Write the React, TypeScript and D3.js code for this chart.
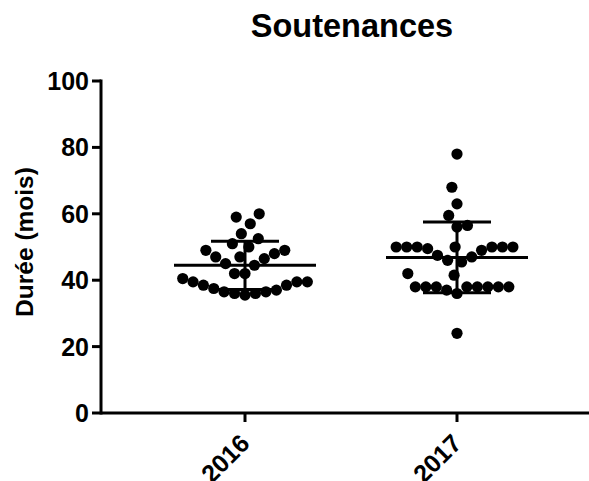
import React from 'react';
import * as d3 from 'd3';

const categories = ['2016', '2017'];
const values2016 = [59, 57, 60, 54, 52.5, 51, 50, 49, 49, 48, 47, 46.5, 47, 45, 44.5, 42, 42, 40.5, 39.5, 38.5, 37.5, 36.5, 36, 35.5, 36, 36.5, 37, 38.5, 39.5, 39.5];
const values2017 = [78, 68, 63, 59.5, 56.5, 56, 50, 50, 49.5, 50, 50, 50, 50, 50, 47, 46, 45.5, 47.5, 49, 42, 41.5, 38, 38, 38, 38, 38, 38, 38, 38, 37, 36, 24];
const seriesValues = [values2016, values2017];
const yTicks = [0, 20, 40, 60, 80, 100];
const title = 'Soutenances';
const yLabel = 'Durée (mois)';

const W = 589;
const H = 481;
const FONT = '"Liberation Sans", Arial, sans-serif';

type P = { v: number; y: number; x: number };

// beeswarm with an elliptical collision zone (wider vertically) so close values spread sideways
function swarm(vals: number[], yScale: (v: number) => number, rx: number, ry: number): P[] {
  const pts: P[] = vals.map((v) => ({ v, y: yScale(v), x: 0 }));
  const order = [...pts].sort((a, b) => a.v - b.v);
  const placed: P[] = [];
  let flip = 1;
  const hits = (q: P, cx: number, cy: number) => ((q.x - cx) / rx) ** 2 + ((q.y - cy) / ry) ** 2 < 1 - 1e-6;
  for (const p of order) {
    const cands = [0];
    for (const q of placed) {
      const dy = p.y - q.y;
      if (Math.abs(dy) < ry) {
        const dx = rx * Math.sqrt(1 - (dy / ry) ** 2);
        cands.push(q.x + dx, q.x - dx);
      }
    }
    cands.sort((a, b) => Math.abs(a) - Math.abs(b) || (a - b) * flip);
    for (const c of cands) {
      if (!placed.some((q) => hits(q, c, p.y))) {
        p.x = c;
        break;
      }
    }
    flip = -flip;
    placed.push(p);
  }
  return pts;
}

export default function App() {
  const y = d3.scaleLinear().domain([0, 100]).range([413, 81]);
  const x = d3.scalePoint<string>().domain(categories).range([245, 457]);
  const axisX0 = 101;
  const axisX1 = 589;
  const r = 5.6;

  return (
    <svg width={W} height={H} style={{ position: 'absolute', left: 0, top: 0, background: '#fff' }} fontFamily={FONT}>
      <text x={352} y={37} textAnchor="middle" fontSize={32.5} fontWeight="bold" fill="#000">{title}</text>
      <text transform={`translate(33,242) rotate(-90)`} textAnchor="middle" fontSize={24.5} fontWeight="bold" fill="#000">{yLabel}</text>

      {/* y axis */}
      <line x1={axisX0} x2={axisX0} y1={y(100) - 1.5} y2={y(0) + 1.5} stroke="#000" strokeWidth={3} />
      {yTicks.map((t) => (
        <g key={t}>
          <line x1={axisX0 - 9} x2={axisX0} y1={y(t)} y2={y(t)} stroke="#000" strokeWidth={3} />
          <text x={axisX0 - 12} y={y(t)} dy="0.36em" textAnchor="end" fontSize={25} fontWeight="bold" fill="#000">{t}</text>
        </g>
      ))}

      {/* x axis */}
      <line x1={axisX0} x2={axisX1} y1={y(0)} y2={y(0)} stroke="#000" strokeWidth={3} />
      {categories.map((c) => (
        <g key={c}>
          <line x1={x(c)!} x2={x(c)!} y1={y(0)} y2={y(0) + 9} stroke="#000" strokeWidth={3} />
          <text transform={`translate(${x(c)! + 6},${y(0) + 32}) rotate(-45)`} textAnchor="end" fontSize={25} fontWeight="bold" fill="#000">{c}</text>
        </g>
      ))}

      {categories.map((c, i) => {
        const vals = seriesValues[i];
        const pts = swarm(vals, y, 10.5, 19);
        const cx = x(c)!;
        const m = d3.mean(vals)!;
        const sd = d3.deviation(vals)!;
        return (
          <g key={c}>
            {pts.map((p, j) => (
              <circle key={j} cx={cx + p.x} cy={p.y} r={r} fill="#000" />
            ))}
            <line x1={cx - 71} x2={cx + 71} y1={y(m)} y2={y(m)} stroke="#000" strokeWidth={3} />
            <line x1={cx} x2={cx} y1={y(m + sd)} y2={y(m - sd)} stroke="#000" strokeWidth={3} />
            <line x1={cx - 34} x2={cx + 34} y1={y(m + sd)} y2={y(m + sd)} stroke="#000" strokeWidth={3} />
            <line x1={cx - 34} x2={cx + 34} y1={y(m - sd)} y2={y(m - sd)} stroke="#000" strokeWidth={3} />
          </g>
        );
      })}
    </svg>
  );
}
